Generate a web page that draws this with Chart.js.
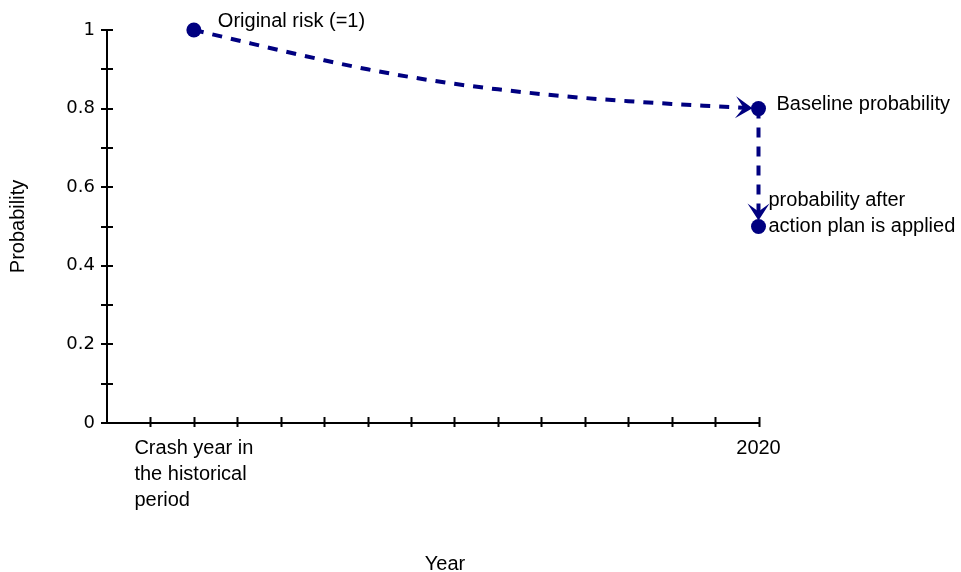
<!DOCTYPE html>
<html>
<head>
<meta charset="utf-8">
<script src="https://cdn.jsdelivr.net/npm/chart.js@4.4.1/dist/chart.umd.min.js"></script>
<style>
  html, body { margin: 0; padding: 0; background: #fff; }
  #wrap { width: 961px; height: 572px; }
</style>
</head>
<body>
<div id="wrap"><canvas id="riskChart"></canvas></div>
<script>
// decline of risk from the crash year (x=2) to 2020 (x=15)
const curveYears = [2, 3, 4, 5, 6, 7, 8, 9, 10, 11, 12, 13, 14, 15];
const curveProb = [1, 0.974, 0.948, 0.923, 0.9, 0.88, 0.863, 0.849, 0.837, 0.827, 0.819, 0.812, 0.806, 0.8];

// drop once the action plan is applied
const dropYears = [15, 15];
const dropProb = [0.8, 0.5];

// marked points and their notes
const markerYears = [2, 15, 15];
const markerProb = [1, 0.8, 0.5];
const markerNotes = [
    ['Original risk (=1)'],
    ['Baseline probability'],
    ['probability after', 'action plan is applied']
];

// x axis labels
const xLabelValues = [2, 15];
const xLabelText = [['Crash year in', 'the historical', 'period'], ['2020']];
const xTitle = 'Year';
const yTitle = 'Probability';

const NAVY = '#000080';
const toPoints = (xs, ys) => xs.map((x, i) => ({ x: x, y: ys[i] }));

// tick marks across both axes, x labels, notes and arrow heads
const extrasPlugin = {
    id: 'extras',
    afterDatasetsDraw(chart) {
        const ctx = chart.ctx;
        const xs = chart.scales.x;
        const ys = chart.scales.y;
        const x0 = xs.getPixelForValue(0);
        const y0 = ys.getPixelForValue(0);

        ctx.save();
        ctx.strokeStyle = '#000';
        ctx.lineWidth = 2;
        ctx.beginPath();
        for (let i = 0; i <= 10; i++) {
            const py = Math.round(ys.getPixelForValue(i / 10));
            ctx.moveTo(x0 - 6, py);
            ctx.lineTo(x0 + 6, py);
        }
        for (let i = 1; i <= 15; i++) {
            const px = Math.round(xs.getPixelForValue(i)) + 0.5;
            ctx.moveTo(px, y0 - 6);
            ctx.lineTo(px, y0 + 4);
        }
        ctx.stroke();

        // x labels: block centred on the tick, lines left aligned
        ctx.fillStyle = '#000';
        ctx.font = '20px "Liberation Sans", Arial, sans-serif';
        ctx.textBaseline = 'alphabetic';
        ctx.textAlign = 'left';
        xLabelValues.forEach((v, i) => {
            const lines = xLabelText[i];
            const w = Math.max(...lines.map(l => ctx.measureText(l).width));
            const left = xs.getPixelForValue(v) - w / 2;
            lines.forEach((l, j) => ctx.fillText(l, left, y0 + 31 + j * 26));
        });
        ctx.textAlign = 'center';
        ctx.fillText(xTitle, 445, 570);

        // notes beside the markers
        const noteOffsets = [[24, -3], [18, 1], [10, -20.5]];
        ctx.textAlign = 'left';
        ctx.font = '20px "Liberation Sans", Arial, sans-serif';
        markerNotes.forEach((lines, i) => {
            const px = xs.getPixelForValue(markerYears[i]);
            const py = ys.getPixelForValue(markerProb[i]);
            lines.forEach((l, j) => ctx.fillText(l, px + noteOffsets[i][0], py + noteOffsets[i][1] + j * 26));
        });

        // arrow heads at the end of the curve and of the drop
        const arrow = (fromX, fromY, toX, toY) => {
            const a = Math.atan2(toY - fromY, toX - fromX);
            ctx.save();
            ctx.translate(toX, toY);
            ctx.rotate(a);
            ctx.translate(-6, 0);
            ctx.beginPath();
            ctx.moveTo(0, 0);
            ctx.lineTo(-17, -11);
            ctx.lineTo(-9, 0);
            ctx.lineTo(-17, 11);
            ctx.closePath();
            ctx.fillStyle = NAVY;
            ctx.fill();
            ctx.restore();
        };
        const n = curveYears.length;
        arrow(xs.getPixelForValue(curveYears[n - 2]), ys.getPixelForValue(curveProb[n - 2]),
              xs.getPixelForValue(curveYears[n - 1]), ys.getPixelForValue(curveProb[n - 1]));
        arrow(xs.getPixelForValue(dropYears[0]), ys.getPixelForValue(dropProb[0]),
              xs.getPixelForValue(dropYears[1]), ys.getPixelForValue(dropProb[1]));
        ctx.restore();
    }
};

const ctx = document.getElementById('riskChart').getContext('2d');
const riskChart = new Chart(ctx, {
    type: 'line',
    data: {
        datasets: [
            {
                data: toPoints(markerYears, markerProb),
                showLine: false,
                pointRadius: 7.5,
                pointBackgroundColor: NAVY,
                pointBorderWidth: 0,
                clip: false
            },
            {
                data: toPoints(curveYears, curveProb),
                borderColor: NAVY,
                borderWidth: 4,
                borderDash: [10, 9],
                cubicInterpolationMode: 'monotone',
                pointRadius: 0,
                fill: false,
                clip: false
            },
            {
                data: toPoints(dropYears, dropProb),
                borderColor: NAVY,
                borderWidth: 4,
                borderDash: [10, 9],
                pointRadius: 0,
                fill: false,
                clip: false
            }
        ]
    },
    options: {
        responsive: true,
        maintainAspectRatio: false,
        animation: false,
        layout: { padding: { top: 30, right: 202.5, bottom: 149, left: 0 } },
        plugins: {
            legend: { display: false },
            tooltip: { enabled: false }
        },
        scales: {
            x: {
                type: 'linear',
                min: 0,
                max: 15,
                grid: { display: false, drawTicks: false },
                border: { display: true, color: '#000', width: 2 },
                ticks: { display: false },
                afterFit: s => { s.height = 0; }
            },
            y: {
                min: 0,
                max: 1,
                grid: { display: false, drawTicks: false },
                border: { display: true, color: '#000', width: 2 },
                ticks: {
                    stepSize: 0.1,
                    padding: 12,
                    color: '#000',
                    font: { family: '"DejaVu Sans"', size: 18 },
                    callback: v => (Math.round(v * 10) % 2 === 0 ? String(Math.round(v * 10) / 10) : '')
                },
                title: {
                    display: true,
                    text: yTitle,
                    color: '#000',
                    font: { family: '"Liberation Sans"', size: 20 },
                    padding: { top: 6, bottom: 0 }
                },
                afterFit: s => { s.width = 107; }
            }
        }
    },
    plugins: [extrasPlugin]
});
</script>
</body>
</html>
